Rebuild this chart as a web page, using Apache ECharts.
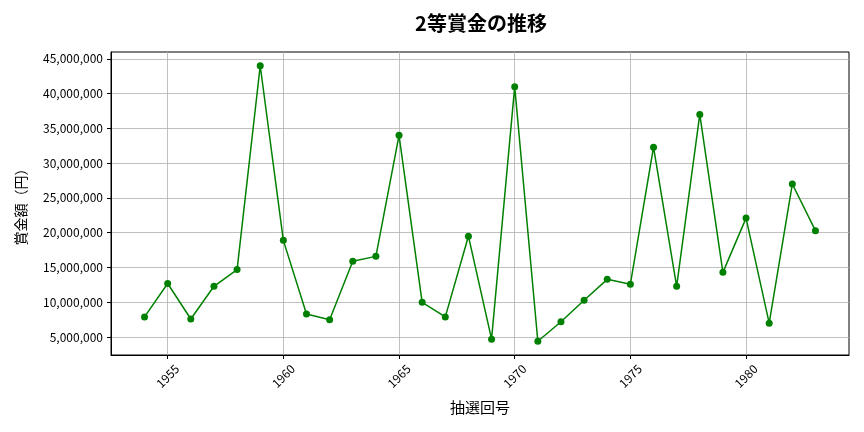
<!DOCTYPE html>
<html><head><meta charset="utf-8">
<script src="https://cdn.jsdelivr.net/npm/echarts@6/dist/echarts.min.js"></script>
<style>html,body{margin:0;padding:0;background:#fff}#c{width:864px;height:432px}</style>
</head><body><div id="c"></div>
<script>
const years = [1954,1955,1956,1957,1958,1959,1960,1961,1962,1963,1964,1965,1966,1967,1968,1969,1970,1971,1972,1973,1974,1975,1976,1977,1978,1979,1980,1981,1982,1983];
const prize = [7900000,12700000,7600000,12300000,14700000,44000000,18900000,8300000,7500000,15900000,16600000,34000000,10000000,7900000,19500000,4700000,41000000,4400000,7200000,10300000,13300000,12600000,32300000,12300000,37000000,14300000,22100000,7000000,27000000,20300000];
const xTicks = [1955,1960,1965,1970,1975,1980];
const yTicks = [5000000,10000000,15000000,20000000,25000000,30000000,35000000,40000000,45000000];

const font = '"Noto Sans CJK JP","Noto Sans",sans-serif';
const minY = Math.min(...prize), maxY = Math.max(...prize);
const padY = (maxY - minY) * 0.05;
const minX = years[0], maxX = years[years.length-1];
const padX = (maxX - minX) * 0.05;

const chart = echarts.init(document.getElementById('c'));
chart.setOption({
  animation: false,
  title: {text: '2等賞金の推移', left: 476, top: 8, textAlign: 'center',
    textStyle: {fontFamily: font, fontSize: 20, fontWeight: 'bold', color: '#000'}},
  grid: {left: 111, right: 15, top: 52, bottom: 77, show: true, borderColor: '#000', borderWidth: 1, backgroundColor: 'transparent'},
  xAxis: {
    type: 'value', min: minX - padX, max: maxX + padX,
    name: '抽選回号', nameLocation: 'middle', nameGap: 45,
    nameTextStyle: {fontFamily: font, fontSize: 15, color: '#000'},
    axisLine: {show: true, onZero: false, lineStyle: {color: '#000', width: 1}},
    axisTick: {show: true, length: 4, customValues: xTicks, lineStyle: {color: '#000'}},
    axisLabel: {customValues: xTicks, rotate: 45, align: 'center', verticalAlign: 'middle',
      fontFamily: font, fontSize: 12, color: '#000', margin: 21, formatter: v => String(v)},
    splitLine: {show: true, lineStyle: {color: '#b0b0b0', width: 0.8}}
  },
  yAxis: {
    type: 'value', min: minY - padY, max: maxY + padY,
    name: '賞金額（円）', nameLocation: 'middle', nameGap: 83, nameRotate: 90,
    nameTextStyle: {fontFamily: font, fontSize: 14, color: '#000'},
    axisLine: {show: true, onZero: false, lineStyle: {color: '#000', width: 1}},
    axisTick: {show: true, length: 4, customValues: yTicks, lineStyle: {color: '#000'}},
    axisLabel: {customValues: yTicks, fontFamily: font, fontSize: 12, color: '#000', margin: 8,
      formatter: v => Math.round(v).toLocaleString('en-US')},
    splitLine: {show: true, lineStyle: {color: '#b0b0b0', width: 0.8}}
  },
  series: [{
    type: 'line', data: years.map((y, i) => [y, prize[i]]),
    symbol: 'circle', symbolSize: 7,
    lineStyle: {color: '#008000', width: 1.5},
    itemStyle: {color: '#008000'}
  }]
});
</script></body></html>
